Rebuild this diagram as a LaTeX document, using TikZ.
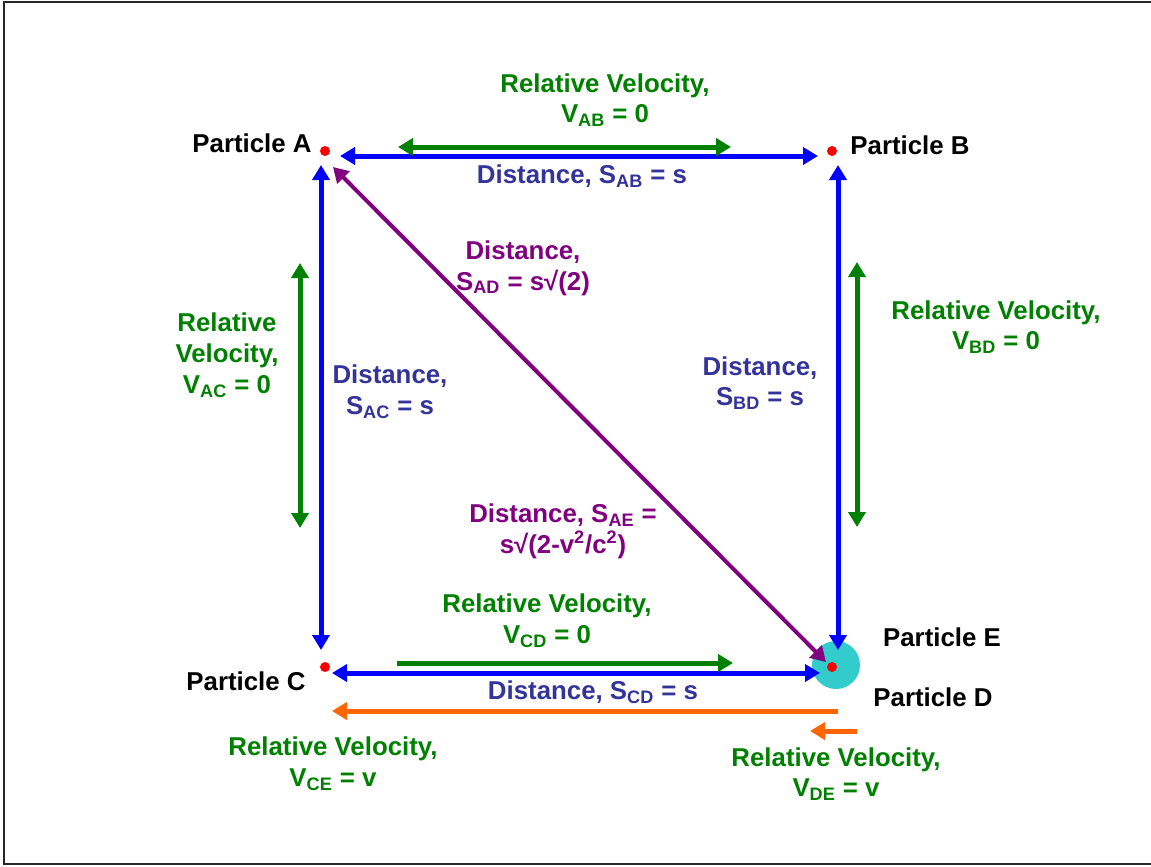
\documentclass[tikz,border=0pt]{standalone}
\usepackage{fontspec}
\setmainfont{Liberation Sans}
\usetikzlibrary{arrows.meta,positioning}
\definecolor{vblue}{HTML}{0000FF}
\definecolor{vgreen}{HTML}{008000}
\definecolor{dblue}{HTML}{333399}
\definecolor{vpurple}{HTML}{800080}
\definecolor{vorange}{HTML}{FF6600}
\definecolor{vcyan}{HTML}{33CCCC}
\definecolor{vred}{HTML}{FF0000}
\tikzset{
  dot/.style={circle,fill=vred,inner sep=0pt,minimum size=0.2cm},
  tip/.style={Triangle[length=0.3cm,width=0.34cm]},
  distarrow/.style={{Triangle[length=0.3cm,width=0.34cm]}-{Triangle[length=0.3cm,width=0.34cm]},line width=0.1cm,vblue},
  velarrow/.style={{Triangle[length=0.3cm,width=0.34cm]}-{Triangle[length=0.3cm,width=0.34cm]},line width=0.1cm,vgreen},
  onearrow/.style={-{Triangle[length=0.3cm,width=0.34cm]},line width=0.1cm},
  txt/.style={font=\bfseries\fontsize{14.7}{17.6}\selectfont,align=center,inner sep=0pt},
  veltxt/.style={txt,text=vgreen},
  disttxt/.style={txt,text=dblue},
  diagtxt/.style={txt,text=vpurple}
}
\begin{document}
\begin{tikzpicture}[x=0.02cm,y=-0.02cm]
    \useasboundingbox (0,0) rectangle (1151,866);
    \draw[line width=0.04cm,black!85] (4,2) rectangle (1165,864);

    % particles
    \node[circle,fill=vcyan,inner sep=0pt,minimum size=0.96cm] (pE) at (836,665) {};
    \node[dot] (pA) at (325,151) {};
    \node[dot] (pB) at (832,151) {};
    \node[dot] (pC) at (325,667) {};
    \node[dot] (pD) at (832,667) {};

    \node[txt] (nameA) at (252,143) {Particle A};
    \node[txt] (nameB) at (910,145) {Particle B};
    \node[txt] (nameC) at (246,681) {Particle C};
    \node[txt] (nameD) at (933,697) {Particle D};
    \node[txt] (nameE) at (942,637) {Particle E};

    % distances
    \draw[distarrow] ([shift={(15,5)}]pA.center) -- ([shift={(-14,5)}]pB.center);
    \draw[distarrow] ([shift={(-4,14)}]pA.center) -- ([shift={(-4,-17)}]pC.center);
    \draw[distarrow] ([shift={(6,14)}]pB.center) -- ([shift={(6,-17)}]pD.center);
    \draw[distarrow] ([shift={(7,6)}]pC.center) -- ([shift={(-12,6)}]pD.center);
    \draw[distarrow,vpurple,line width=0.08cm] ([shift={(8,16)}]pA.center) -- ([shift={(-6,-5)}]pD.center);

    % velocities
    \draw[velarrow] ([shift={(73,-4)}]pA.center) -- ([shift={(-101,-4)}]pB.center);
    \draw[velarrow] ([shift={(-25,112)}]pA.center) -- ([shift={(-25,-139)}]pC.center);
    \draw[velarrow] ([shift={(25,111)}]pB.center) -- ([shift={(25,-140)}]pD.center);
    \draw[onearrow,vgreen] ([shift={(72,-4)}]pC.center) -- ([shift={(-99,-4)}]pD.center);
    \draw[onearrow,vorange] ([shift={(6,44)}]pD.center) -- ([shift={(7,44)}]pC.center);
    \draw[onearrow,vorange] ([shift={(25,64)}]pD.center) -- ([shift={(-22,64)}]pD.center);

    % labels
    \node[veltxt] (velAB) at (605,100) {Relative Velocity,\\V\textsubscript{AB} = 0};
    \node[disttxt] (distAB) at (582,176) {Distance, S\textsubscript{AB} = s};
    \node[diagtxt] (distAD) at (523,268) {Distance,\\S\textsubscript{AD} = s√(2)};
    \node[veltxt] (velAC) at (227,355) {Relative\\Velocity,\\V\textsubscript{AC} = 0};
    \node[disttxt] (distAC) at (390,392) {Distance,\\S\textsubscript{AC} = s};
    \node[veltxt] (velBD) at (996,327) {Relative Velocity,\\V\textsubscript{BD} = 0};
    \node[disttxt] (distBD) at (760,383) {Distance,\\S\textsubscript{BD} = s};
    \node[diagtxt] (distAE) at (563,531) {Distance, S\textsubscript{AE} =\\s√(2-v\textsuperscript{2}/c\textsuperscript{2})};
    \node[veltxt] (velCD) at (547,621) {Relative Velocity,\\V\textsubscript{CD} = 0};
    \node[disttxt] (distCD) at (593,692) {Distance, S\textsubscript{CD} = s};
    \node[veltxt] (velCE) at (333,764) {Relative Velocity,\\V\textsubscript{CE} = v};
    \node[veltxt] (velDE) at (836,774) {Relative Velocity,\\V\textsubscript{DE} = v};
\end{tikzpicture}
\end{document}
